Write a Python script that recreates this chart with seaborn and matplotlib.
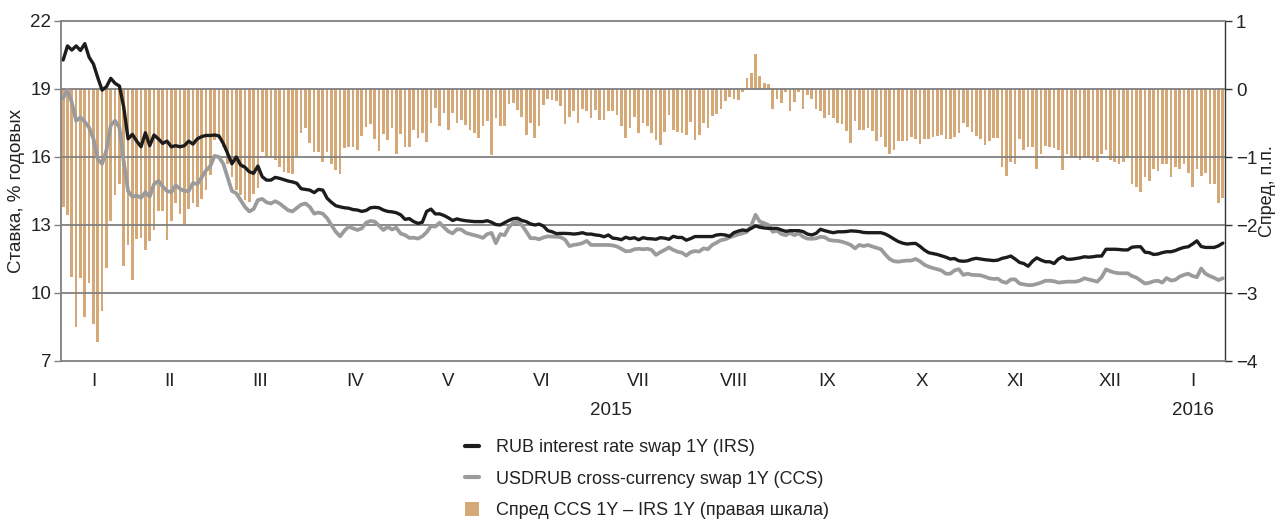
import numpy as np
import pandas as pd
import matplotlib
matplotlib.use('Agg')
import matplotlib.pyplot as plt
import matplotlib.transforms as mtransforms
from matplotlib.lines import Line2D
from matplotlib.patches import Patch
import seaborn as sns

# --- data (weekdays, 12.01.2015 - 21.01.2016) ---
start_day = '2015-01-12'
end_day = '2016-01-21'

month_labels = ['I', 'II', 'III', 'IV', 'V', 'VI', 'VII', 'VIII', 'IX', 'X', 'XI', 'XII', 'I']
year_labels = ['2015', '2016']

# RUB interest rate swap 1Y, % p.a.
irs = [
    20.28, 20.9, 20.72, 20.9, 20.7, 21.0, 20.4, 20.1, 19.5, 18.95, 19.1, 19.47, 19.25, 19.13, 18.2,
    16.8, 17.0, 16.7, 16.45, 17.07, 16.5, 16.97, 16.8, 16.6, 16.7, 16.45, 16.5, 16.45, 16.5, 16.7,
    16.57, 16.8, 16.9, 16.95, 16.95,
    16.97, 16.93, 16.6, 16.16, 15.7, 16.0, 15.65, 15.55, 15.35, 15.28, 15.6, 15.13, 14.98, 14.98,
    15.1, 15.06, 15.0, 14.94, 14.9, 14.84, 14.6, 14.57,
    14.54, 14.43, 14.57, 14.54, 14.18, 14.0, 13.85, 13.8, 13.76, 13.74, 13.68, 13.66, 13.6, 13.64,
    13.76, 13.78, 13.76, 13.66, 13.6, 13.58, 13.54, 13.45,
    13.25, 13.28, 13.15, 13.07, 13.12, 13.6, 13.7, 13.49, 13.49, 13.42, 13.32, 13.2, 13.27, 13.22,
    13.19, 13.17, 13.15, 13.15, 13.15, 13.19, 13.12,
    13.02, 13.0, 13.1, 13.2, 13.28, 13.3, 13.2, 13.15, 13.05, 13.0, 13.04, 12.95, 12.75, 12.7,
    12.62, 12.63, 12.63, 12.62, 12.6, 12.62, 12.66, 12.6,
    12.6, 12.56, 12.54, 12.48, 12.56, 12.42, 12.4, 12.35, 12.46, 12.4, 12.44, 12.35, 12.44, 12.4,
    12.39, 12.37, 12.44, 12.42, 12.37, 12.5, 12.45, 12.45, 12.33,
    12.4, 12.49, 12.49, 12.49, 12.49, 12.49, 12.56, 12.58, 12.56, 12.5, 12.66, 12.73, 12.78, 12.75,
    12.85, 12.96, 12.9, 12.87, 12.85, 12.85, 12.85,
    12.78, 12.72, 12.75, 12.75, 12.75, 12.71, 12.6, 12.56, 12.63, 12.81, 12.75, 12.7, 12.66, 12.7,
    12.7, 12.71, 12.74, 12.73, 12.71, 12.67, 12.66, 12.66,
    12.66, 12.66, 12.6, 12.5, 12.38, 12.27, 12.2, 12.16, 12.18, 12.19, 12.06, 11.9, 11.78, 11.74,
    11.7, 11.64, 11.58, 11.5, 11.52, 11.42, 11.4, 11.42,
    11.49, 11.53, 11.5, 11.47, 11.45, 11.43, 11.45, 11.53, 11.57, 11.63, 11.5, 11.35, 11.3, 11.18,
    11.4, 11.55, 11.45, 11.38, 11.38, 11.3, 11.5,
    11.6, 11.49, 11.49, 11.52, 11.55, 11.6, 11.58, 11.6, 11.63, 11.63, 11.93, 11.93, 11.93, 11.92,
    11.9, 11.9, 12.02, 12.04, 12.04, 11.8, 11.78, 11.7, 11.72,
    11.78, 11.82, 11.82, 11.87, 11.95, 12.01, 12.04, 12.16, 12.3, 12.05, 12.01, 12.01, 12.01, 12.08, 12.2,
]

# USDRUB cross-currency swap 1Y, % p.a.
ccs = [
    18.6, 18.95, 18.4, 17.6, 17.75, 17.55, 17.3, 16.8, 15.9, 15.7, 16.3, 17.4, 17.6, 17.3, 15.8,
    14.5, 14.25, 14.3, 14.2, 14.45, 14.25, 14.8, 14.95, 14.7, 14.5, 14.45, 14.75, 14.6, 14.5, 14.5,
    14.85, 14.8, 15.1, 15.4, 15.6,
    16.05, 16.0, 15.7, 15.1, 14.5, 14.4, 14.1, 13.8, 13.6, 13.7, 14.1, 14.15, 14.0, 13.95, 14.05,
    13.95, 13.8, 13.65, 13.6, 13.75, 13.9, 13.95,
    13.8, 13.5, 13.55, 13.5, 13.3, 13.0, 12.7, 12.5, 12.75, 12.93, 12.85, 12.78, 12.85, 13.1, 13.18,
    13.15, 12.97, 12.78, 12.92, 12.8, 12.88, 12.62,
    12.56, 12.43, 12.44, 12.4, 12.5, 12.68, 12.95, 12.93, 13.1, 12.9, 12.72, 12.63, 12.81, 12.8,
    12.66, 12.6, 12.55, 12.5, 12.43, 12.6, 12.65,
    12.2, 12.6, 12.55, 12.9, 13.1, 13.15, 13.0, 12.72, 12.42, 12.42, 12.37, 12.45, 12.5, 12.49,
    12.48, 12.46, 12.35, 12.07, 12.12, 12.15, 12.2, 12.3,
    12.12, 12.12, 12.12, 12.12, 12.12, 12.1, 12.05, 11.95, 11.84, 11.85, 11.93, 11.95, 11.93, 11.95,
    11.9, 11.68, 11.8, 11.9, 12.01, 11.9, 11.82, 11.78, 11.65,
    11.8, 11.85, 11.83, 11.97, 11.93, 12.12, 12.22, 12.33, 12.37, 12.45, 12.52, 12.58, 12.63, 12.7,
    12.96, 13.45, 13.15, 13.08, 13.0, 12.7, 12.75,
    12.6, 12.55, 12.65, 12.55, 12.63, 12.48, 12.4, 12.39, 12.41, 12.48, 12.46, 12.34, 12.31, 12.3,
    12.26, 12.2, 12.12, 11.97, 12.12, 12.07, 12.12, 12.05,
    11.99, 11.93, 11.7, 11.5, 11.4, 11.38, 11.41, 11.43, 11.43, 11.5, 11.4, 11.25, 11.16, 11.1,
    11.05, 10.99, 10.85, 10.85, 11.0, 11.05, 10.8, 10.85,
    10.8, 10.79, 10.78, 10.72, 10.65, 10.62, 10.63, 10.5, 10.45, 10.6, 10.6, 10.42, 10.38, 10.35,
    10.35, 10.4, 10.46, 10.54, 10.54, 10.52, 10.46,
    10.48, 10.5, 10.5, 10.5, 10.55, 10.65, 10.6, 10.55, 10.5, 10.7, 11.04, 10.96, 10.9, 10.87,
    10.87, 10.87, 10.75, 10.68, 10.55, 10.42, 10.45, 10.52, 10.54,
    10.46, 10.66, 10.55, 10.58, 10.72, 10.8, 10.85, 10.75, 10.7, 11.08, 10.85, 10.75, 10.67, 10.57, 10.65,
]

# spread CCS 1Y - IRS 1Y, p.p. (right scale)
spread = [
    -1.73, -1.85, -2.77, -3.50, -2.78, -3.35, -2.85, -3.45, -3.72, -3.27, -2.63, -1.94, -1.56, -1.40, -2.60,
    -2.29, -2.81, -2.21, -2.19, -2.37, -2.24, -2.07, -1.80, -1.80, -2.22, -1.94, -1.67, -1.84, -1.98, -1.77,
    -1.68, -1.74, -1.62, -1.49, -1.27,
    -0.75, -0.73, -0.85, -1.11, -1.29, -1.49, -1.56, -1.63, -1.66, -1.55, -1.46, -0.92, -1.00, -1.02,
    -1.04, -1.14, -1.22, -1.24, -1.25, -0.98, -0.65, -0.58,
    -0.79, -0.92, -0.92, -1.07, -0.92, -1.10, -1.19, -1.25, -0.87, -0.85, -0.86, -0.90, -0.69, -0.56,
    -0.51, -0.74, -0.91, -0.66, -0.75, -0.58, -0.96, -0.66,
    -0.85, -0.85, -0.60, -0.72, -0.64, -0.78, -0.50, -0.28, -0.55, -0.36, -0.60, -0.36, -0.50, -0.45,
    -0.53, -0.60, -0.64, -0.72, -0.55, -0.47, -0.97,
    -0.42, -0.54, -0.55, -0.22, -0.20, -0.31, -0.41, -0.68, -0.50, -0.72, -0.55, -0.24, -0.15, -0.16,
    -0.17, -0.25, -0.52, -0.41, -0.32, -0.50, -0.29, -0.33,
    -0.43, -0.31, -0.45, -0.45, -0.32, -0.33, -0.38, -0.54, -0.72, -0.58, -0.41, -0.65, -0.50, -0.55,
    -0.65, -0.75, -0.82, -0.63, -0.38, -0.60, -0.63, -0.65, -0.68,
    -0.48, -0.75, -0.68, -0.50, -0.58, -0.40, -0.37, -0.30, -0.17, -0.12, -0.15, -0.16, -0.05, 0.16,
    0.24, 0.52, 0.19, 0.09, 0.08, -0.29, -0.15,
    -0.20, -0.04, -0.32, -0.19, -0.05, -0.29, -0.09, -0.15, -0.30, -0.33, -0.42, -0.38, -0.43, -0.50,
    -0.52, -0.62, -0.79, -0.47, -0.61, -0.61, -0.57, -0.62,
    -0.76, -0.70, -0.86, -0.96, -0.90, -0.77, -0.77, -0.77, -0.70, -0.73, -0.81, -0.73, -0.73, -0.70,
    -0.69, -0.68, -0.74, -0.73, -0.70, -0.64, -0.50, -0.56,
    -0.63, -0.69, -0.74, -0.82, -0.77, -0.72, -0.72, -1.14, -1.28, -1.08, -1.10, -0.74, -0.90, -0.85,
    -0.86, -1.18, -0.96, -0.84, -0.85, -0.87, -0.90,
    -1.19, -0.95, -1.00, -1.02, -1.04, -1.00, -1.02, -1.05, -1.07, -0.95, -0.90, -1.04, -1.08, -1.10,
    -1.08, -1.02, -1.40, -1.44, -1.51, -1.30, -1.36, -1.17, -1.20,
    -1.10, -1.10, -1.30, -1.14, -1.18, -1.10, -1.23, -1.44, -1.17, -1.28, -1.24, -1.39, -1.39, -1.67, -1.61,
]

days = pd.bdate_range(start_day, end_day)
df = pd.DataFrame({'day': days, 'irs': irs, 'ccs': ccs, 'spread': spread})
df['pos'] = np.arange(len(df))
df['month'] = df['day'].dt.to_period('M')

# month boundaries / centres in position units
grp = df.groupby('month')['pos']
m_start = grp.min().values - 0.5
m_end = grp.max().values + 0.5
boundaries = np.append(m_start, m_end[-1])
centres = (m_start + m_end) / 2
year_pos = [(m_start[0] + m_end[11]) / 2, centres[12]]

# --- style ---
sns.set_style('white')
plt.rcParams['font.family'] = ['Liberation Sans', 'DejaVu Sans']
GRID = '#808080'
TXT = '#222222'
TAN = '#d5a877'

W, H = 1278, 522
fig = plt.figure(figsize=(W / 100, H / 100), dpi=100)
ax = fig.add_axes([61 / W, 1 - 361 / H, (1225 - 61) / W, 340 / H])
ax2 = ax.twinx()

# bars on the right scale, behind the lines
sns.barplot(data=df, x='pos', y='spread', native_scale=True, color=TAN, saturation=1,
            width=0.62, linewidth=0, errorbar=None, ax=ax2)
ax.set_zorder(ax2.get_zorder() + 1)
ax.patch.set_visible(False)

for v in [10, 13, 16, 19]:
    ax.axhline(v, color=GRID, lw=1.3, zorder=1)

sns.lineplot(data=df, x='pos', y='irs', ax=ax, color='#1c1c1c', lw=2.4, zorder=3)
sns.lineplot(data=df, x='pos', y='ccs', ax=ax, color='#9b9b9b', lw=2.7, zorder=2)

ax.set_xlim(-0.5, len(df) - 0.5)
ax.set_ylim(7, 22)
ax2.set_ylim(-4, 1)
ax.set_yticks([7, 10, 13, 16, 19, 22])
ax2.set_yticks([-4, -3, -2, -1, 0, 1])

ax.set_xticks(boundaries)
ax.set_xticklabels([])
ax.set_xticks(centres, minor=True)
ax.set_xticklabels(month_labels, minor=True)
ax.tick_params(axis='x', which='major', direction='out', length=5, color=GRID, width=1)
ax.tick_params(axis='x', which='minor', length=0, pad=9, labelsize=13.5, labelcolor=TXT)
ax.tick_params(axis='y', direction='out', length=5, color=GRID, width=1,
               labelsize=13.5, labelcolor=TXT, pad=2)
ax2.tick_params(axis='y', direction='out', length=5, color='#333333', width=1,
                labelsize=13.5, labelcolor=TXT, pad=3)
ax2.set_xlabel('')

trans = mtransforms.blended_transform_factory(ax.transData, ax.transAxes)
for xp, lab in zip(year_pos, year_labels):
    ax.text(xp, -0.145, lab, transform=trans, ha='center', va='center',
            fontsize=13.5, color=TXT)

ax.set_xlabel('')
ax.set_ylabel('Ставка, % годовых', fontsize=13.5, color=TXT)
ax.yaxis.set_label_coords(-0.031, 0.5)
ax2.set_ylabel('Спред, п.п.', fontsize=13, color=TXT)
ax2.yaxis.set_label_coords(1.0295, 0.5)

for s in ['left', 'bottom', 'top']:
    ax.spines[s].set_color(GRID)
    ax.spines[s].set_linewidth(1.3)
ax.spines['right'].set_visible(False)
for s in ['left', 'bottom', 'top']:
    ax2.spines[s].set_visible(False)
ax2.spines['right'].set_color('#333333')
ax2.spines['right'].set_linewidth(1)

handles = [Line2D([], [], color='#1c1c1c', lw=3),
           Line2D([], [], color='#9b9b9b', lw=3),
           Patch(facecolor=TAN, edgecolor='none')]
labels = ['RUB interest rate swap 1Y (IRS)',
          'USDRUB cross-currency swap 1Y (CCS)',
          'Спред CCS 1Y – IRS 1Y (правая шкала)']
fig.legend(handles, labels, loc='upper left', bbox_to_anchor=(465 / W, 1 - 439 / H),
           frameon=False, fontsize=13, handlelength=0.8, handleheight=0.8,
           handletextpad=0.9, labelspacing=0.8, borderpad=0, borderaxespad=0,
           labelcolor=TXT)

fig.savefig('out.png', dpi=100)
